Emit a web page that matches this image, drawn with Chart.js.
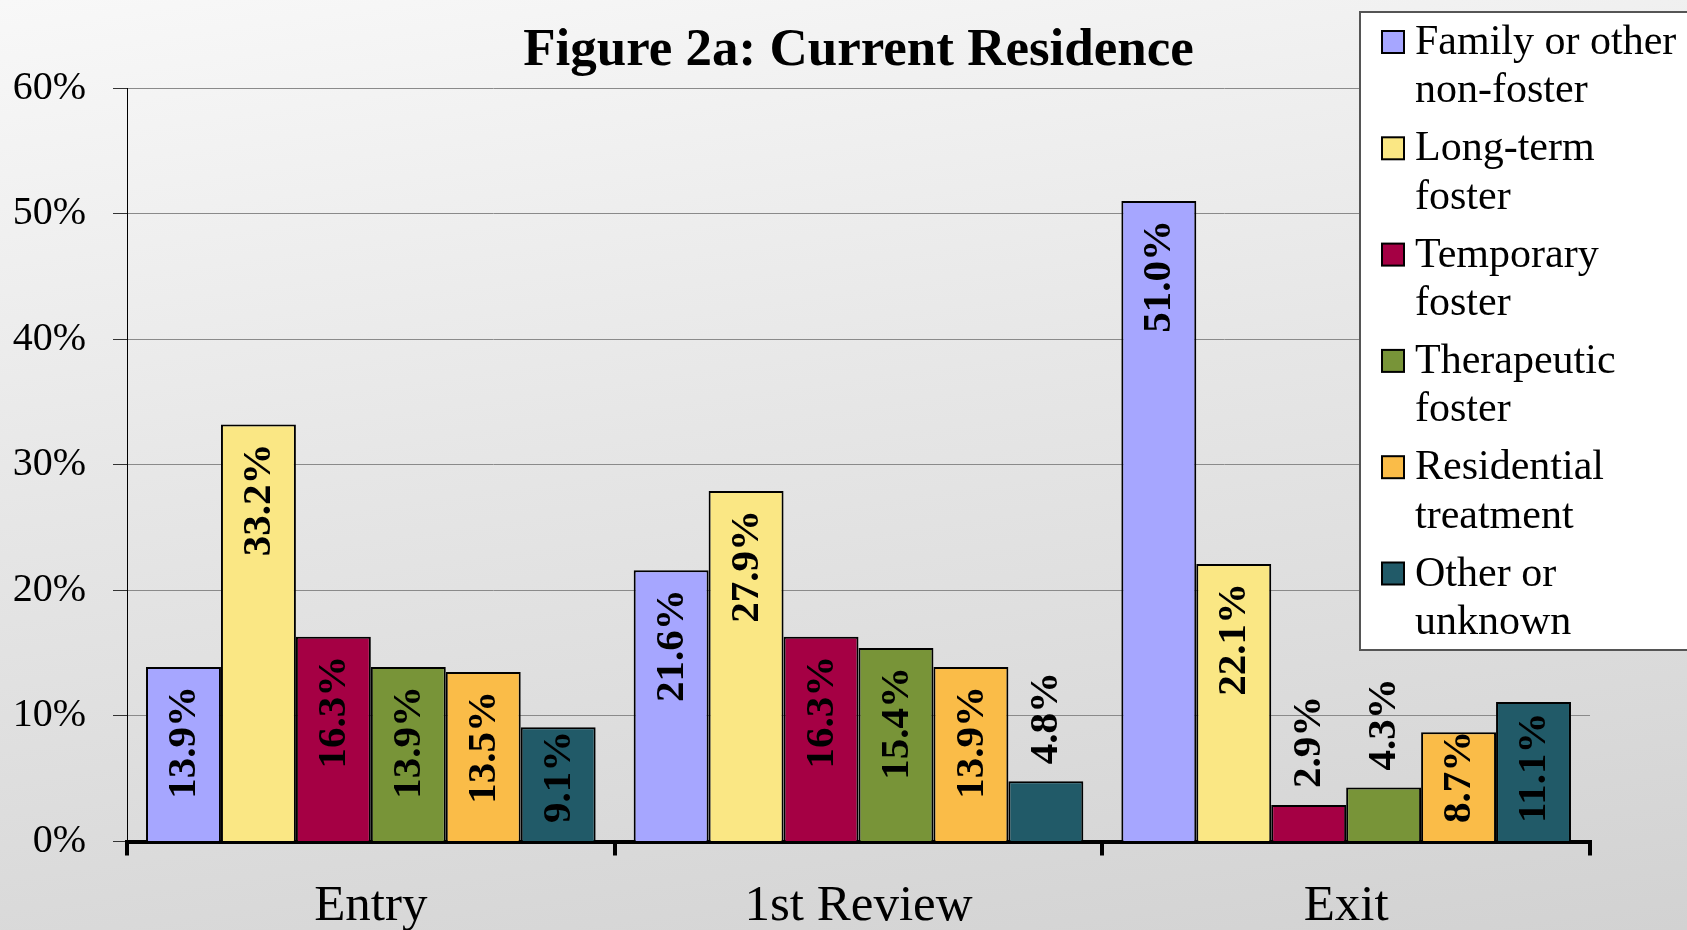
<!DOCTYPE html>
<html>
<head>
<meta charset="utf-8">
<script src="https://cdn.jsdelivr.net/npm/chart.js@4.4.1/dist/chart.umd.min.js"></script>
<style>
  html, body { margin: 0; padding: 0; }
  body {
    width: 1687px; height: 930px; overflow: hidden;
    background: linear-gradient(172deg, #f8f8f8 0%, #e6e6e6 45%, #d2d2d2 100%);
  }
  #wrap { position: relative; width: 1687px; height: 930px; }
</style>
</head>
<body>
<div id="wrap"><canvas id="residenceChart"></canvas></div>
<script>
// chart data
const categories = ['Entry', '1st Review', 'Exit'];
const seriesNames = ['Family or other non-foster', 'Long-term foster', 'Temporary foster',
                     'Therapeutic foster', 'Residential treatment', 'Other or unknown'];
const family      = [13.9, 21.6, 51.0];
const longTerm    = [33.2, 27.9, 22.1];
const temporary   = [16.3, 16.3, 2.9];
const therapeutic = [13.9, 15.4, 4.3];
const residential = [13.5, 13.9, 8.7];
const other       = [9.1, 4.8, 11.1];
const yTicks = [0, 10, 20, 30, 40, 50, 60];

const seriesValues = [family, longTerm, temporary, therapeutic, residential, other];
const seriesColors = ['#a6a6ff', '#fae784', '#a50044', '#789438', '#fabc48', '#215a68'];
const chartTitle = 'Figure 2a: Current Residence';

const SERIF = '"Liberation Serif", "Times New Roman", serif';

// rotated value labels, inside end or above short bars
const barLabels = {
  id: 'barLabels',
  afterDatasetsDraw(chart) {
    const ctx = chart.ctx;
    ctx.save();
    ctx.font = 'bold 41px ' + SERIF;
    ctx.fillStyle = '#000';
    ctx.textBaseline = 'middle';
    chart.data.datasets.forEach((ds, i) => {
      const meta = chart.getDatasetMeta(i);
      meta.data.forEach((bar, j) => {
        const txt = ds.data[j].toFixed(1) + '%';
        const w = ctx.measureText(txt).width;
        const top = bar.y, bottom = bar.base;
        let start; // lower end of the text (text reads upward)
        if (bottom - top >= w + 16) {
          const end = Math.min(top + 19, bottom - 18 - w);
          start = end + w;
        } else {
          start = top - 17;
        }
        ctx.save();
        ctx.translate(bar.x, start);
        ctx.rotate(-Math.PI / 2);
        ctx.textAlign = 'left';
        ctx.fillText(txt, 0, 1);
        ctx.restore();
      });
    });
    ctx.restore();
  }
};

// title and boxed legend in the upper right
const decorations = {
  id: 'decorations',
  afterDraw(chart) {
    const ctx = chart.ctx;
    const area = chart.chartArea;
    ctx.save();
    ctx.fillStyle = '#000';
    ctx.font = 'bold 53px ' + SERIF;
    ctx.textAlign = 'center';
    ctx.textBaseline = 'alphabetic';
    ctx.fillText(chartTitle, (area.left + area.right) / 2, 65);

    // legend box
    ctx.fillStyle = '#fff';
    ctx.fillRect(1360, 12, 340, 638);
    ctx.strokeStyle = '#555';
    ctx.lineWidth = 2;
    ctx.strokeRect(1360, 12, 340, 638);

    ctx.font = '42px ' + SERIF;
    ctx.textAlign = 'left';
    chart.data.datasets.forEach((ds, i) => {
      const base = 54 + i * 106.3;
      ctx.fillStyle = ds.backgroundColor;
      ctx.fillRect(1382, base - 23, 22, 22);
      ctx.strokeStyle = '#000';
      ctx.lineWidth = 2;
      ctx.strokeRect(1382, base - 23, 22, 22);
      // wrap label into lines
      const words = ds.label.split(' ');
      const lines = [];
      let cur = '';
      words.forEach(wd => {
        const test = cur ? cur + ' ' + wd : wd;
        if (ctx.measureText(test).width > 270 && cur) { lines.push(cur); cur = wd; }
        else cur = test;
      });
      lines.push(cur);
      ctx.fillStyle = '#000';
      lines.forEach((ln, k) => ctx.fillText(ln, 1415, base + k * 48.4));
    });
    ctx.restore();
  }
};

const ctx = document.getElementById('residenceChart').getContext('2d');
const residenceChart = new Chart(ctx, {
  type: 'bar',
  data: {
    labels: categories,
    datasets: seriesNames.map((name, i) => ({
      label: name,
      data: seriesValues[i],
      backgroundColor: seriesColors[i],
      borderColor: '#000',
      borderWidth: 2,
      categoryPercentage: 0.922,
      barPercentage: 1.0
    }))
  },
  options: {
    responsive: true,
    maintainAspectRatio: false,
    animation: false,
    layout: { padding: { top: 88, right: 97, left: 0, bottom: 0 } },
    plugins: {
      legend: { display: false },
      title: { display: false },
      tooltip: { enabled: false }
    },
    scales: {
      x: {
        afterFit(scale) { scale.height = 88.5; },
        border: { color: '#000', width: 4 },
        grid: {
          offset: true,
          drawOnChartArea: false,
          tickLength: 14,
          lineWidth: 4,
          tickColor: '#000',
          color: '#000'
        },
        ticks: {
          color: '#000',
          padding: 21,
          font: { family: SERIF, size: 51 }
        }
      },
      y: {
        min: 0,
        max: 60,
        afterFit(scale) { scale.width = 127; },
        afterBuildTicks(scale) { scale.ticks = yTicks.map(v => ({ value: v })); },
        border: { color: '#000', width: 1 },
        grid: {
          color: '#8a8a8a',
          lineWidth: 1,
          tickLength: 14,
          tickColor: '#333'
        },
        ticks: {
          color: '#000',
          padding: 27,
          font: { family: SERIF, size: 40 },
          callback: v => v + '%'
        }
      }
    }
  },
  plugins: [barLabels, decorations]
});
</script>
</body>
</html>
